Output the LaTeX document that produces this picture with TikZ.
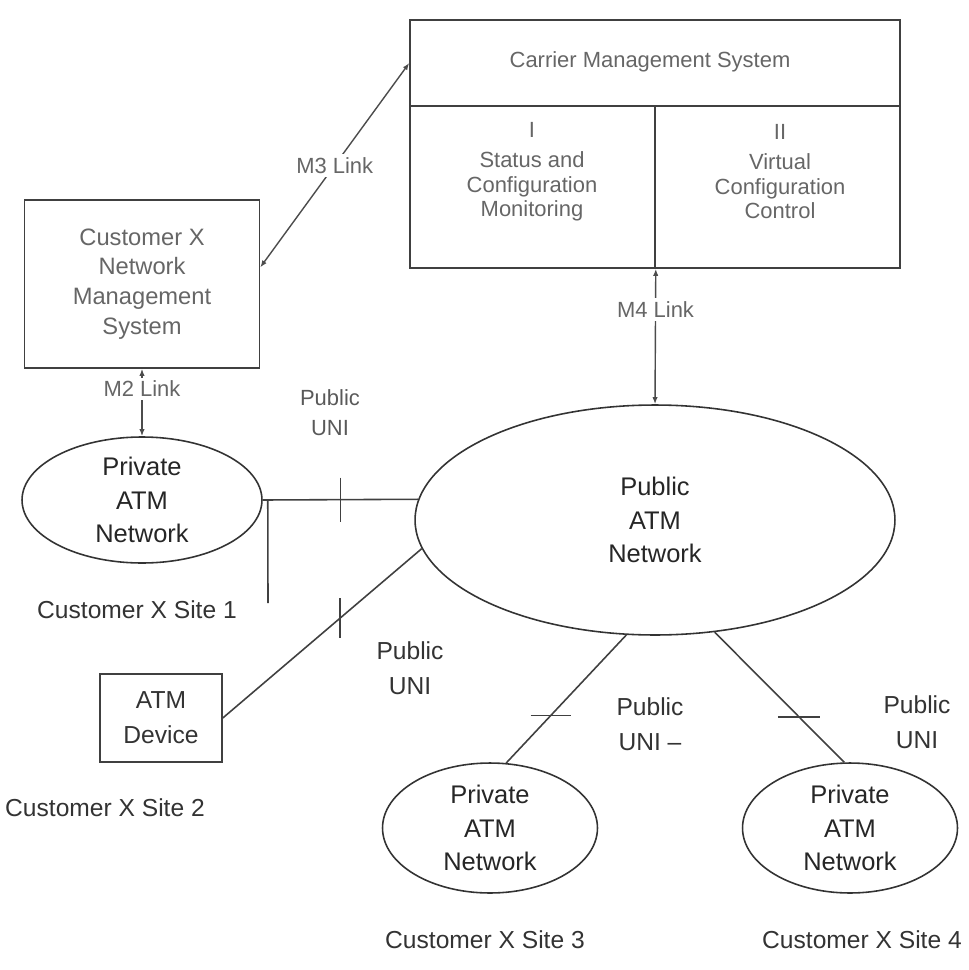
\documentclass[tikz,border=0pt]{standalone}
\usepackage{fontspec}
\setmainfont{Liberation Sans}
\usetikzlibrary{shapes.geometric, arrows.meta, positioning}

\begin{document}
\begin{tikzpicture}[x=0.02cm, y=-0.02cm,
    box/.style={rectangle, draw=black!75, line width=0.9pt, inner sep=0pt, align=center},
    netw/.style={ellipse, draw=black!80, line width=0.9pt, inner sep=0pt, align=center,
                 text=black!85, font=\fontsize{14.5}{19}\selectfont},
    txt/.style={align=center, text=black!60, font=\fontsize{12.5}{14}\selectfont},
    lbl/.style={align=center, text=black!80, font=\fontsize{14}{20}\selectfont},
    tag/.style={fill=white, inner sep=2pt, text=black!60, font=\fontsize{12.5}{14}\selectfont},
    conn/.style={draw=black!75, line width=0.9pt},
    mlink/.style={{Latex[length=4pt,width=3pt]}-{Latex[length=4pt,width=3pt]},
                  draw=black!70, line width=0.8pt},
]
\useasboundingbox (0,0) rectangle (968,970);

% carrier management system
\node[box, minimum width=9.8cm, minimum height=1.72cm] (cms) at (655,63) {};
\node[txt] (cmstxt) at (650,62) {Carrier Management System};
\node[box, minimum width=4.9cm, minimum height=3.24cm] (mon) at (532.5,187) {};
\node[box, minimum width=4.9cm, minimum height=3.24cm] (ctl) at (777.5,187) {};
\node[txt] (montxt) at (532,172) {I\\[3pt]Status and\\Configuration\\Monitoring};
\node[txt] (ctltxt) at (780,172) {II\\[3pt]Virtual\\Configuration\\Control};

% customer side
\node[box, txt, draw=black!75, minimum width=4.7cm, minimum height=3.36cm,
      font=\fontsize{13.5}{17}\selectfont] (nms) at (142,284)
      {Customer X\\Network\\Management\\System};
\node[netw, minimum width=4.8cm, minimum height=2.52cm] (site1) at (142,500) {Private\\ATM\\Network};
\node[box, lbl, draw=black!75, minimum width=2.44cm, minimum height=1.76cm] (dev) at (161,718) {ATM\\Device};
\node[netw, minimum width=9.6cm, minimum height=4.6cm] (pub) at (655,520) {Public\\ATM\\Network};
\node[netw, minimum width=4.3cm, minimum height=2.6cm] (site3) at (490,828) {Private\\ATM\\Network};
\node[netw, minimum width=4.3cm, minimum height=2.6cm] (site4) at (850,828) {Private\\ATM\\Network};

\node[lbl] (s1txt) at (137,610) {Customer X Site 1};
\node[lbl] (s2txt) at (105,808) {Customer X Site 2};
\node[lbl] (s3txt) at (485,940) {Customer X Site 3};
\node[lbl] (s4txt) at (862,940) {Customer X Site 4};

% management links
\draw[mlink] (cms.west) -- node[tag] (m3) {M3 Link} (nms.8);
\draw[mlink] (mon.south east) -- node[tag, pos=.3] (m4) {M4 Link} (pub.north);
\draw[mlink] (nms.south) -- node[tag, pos=.3] (m2) {M2 Link} (site1.north);

% public UNIs
\draw[conn] (site1.east) -- coordinate[pos=.5] (uni1) (pub.175);
\draw[conn] (uni1) ++(0,-22) -- ++(0,44);
\coordinate (s1foot) at (268,603);
\draw[conn] (site1.east) ++(5,0) -- (s1foot);
\node[lbl, text=black!65, font=\fontsize{12.5}{17}\selectfont] (uni1txt) at (330,413) {Public\\UNI};

\draw[conn] (dev.east) -- coordinate[pos=.59] (uni2) (pub.187);
\draw[conn] (uni2) ++(0,-20) -- ++(0,40);
\node[lbl] (uni2txt) at (410,668) {Public\\UNI};

\draw[conn] (pub.256) -- coordinate[pos=.63] (uni3) (site3.76);
\draw[conn] (uni3) ++(-20,0) -- ++(40,0);
\node[lbl] (uni3txt) at (650,724) {Public\\UNI --};

\draw[conn] (pub.-62) -- coordinate[pos=.65] (uni4) (site4.95);
\draw[conn] (uni4) ++(-21,0) -- ++(42,0);
\node[lbl] (uni4txt) at (917,722) {Public\\UNI};
\end{tikzpicture}
\end{document}
